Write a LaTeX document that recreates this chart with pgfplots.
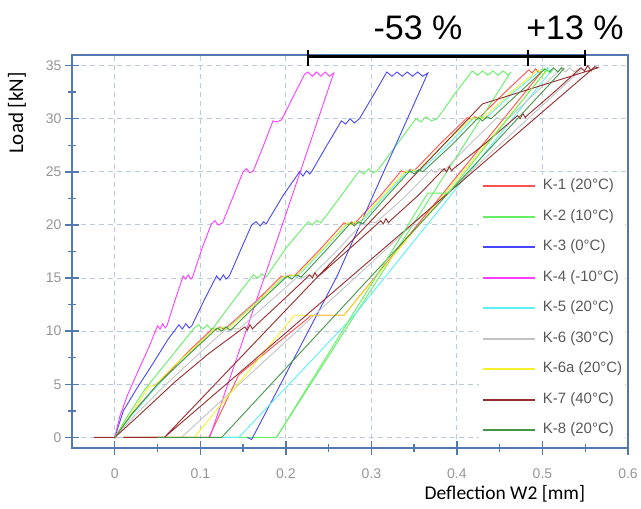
\documentclass[border=0pt]{standalone}
\usepackage{pgfplots}
\pgfplotsset{compat=1.18}
\usepackage{fontspec}
\setmainfont{Liberation Sans}
\newfontfamily\carlito{Carlito}
\definecolor{axblue}{RGB}{84,120,176}
\definecolor{gridc}{RGB}{188,202,224}
\definecolor{tickgray}{RGB}{150,150,150}
\definecolor{legtext}{RGB}{89,89,89}
\definecolor{cK1}{RGB}{255,80,80}
\definecolor{cK2}{RGB}{100,240,100}
\definecolor{cK3}{RGB}{70,70,255}
\definecolor{cK4}{RGB}{255,60,255}
\definecolor{cK5}{RGB}{90,240,245}
\definecolor{cK6}{RGB}{195,195,195}
\definecolor{cK6a}{RGB}{245,240,40}
\definecolor{cK7}{RGB}{150,45,45}
\definecolor{cK8}{RGB}{70,150,70}
\begin{document}
\begin{tikzpicture}
\begin{axis}[
  scale only axis, width=556pt, height=393pt,
  xmin=-0.05, xmax=0.6, ymin=-1, ymax=36,
  axis line style={axblue, line width=1.4pt},
  xtick={0,0.1,0.2,0.3,0.4,0.5,0.6},
  ytick={0,5,10,15,20,25,30,35},
  minor x tick num=1, minor y tick num=1,
  xtick pos=left, ytick pos=left,
  tick align=center,
  major tick length=14pt, minor tick length=8pt,
  tick style={axblue, line width=1.4pt},
  grid=major,
  major grid style={gridc, line width=1pt, dash pattern=on 5pt off 4pt},
  tick label style={font=\fontsize{14}{14}\selectfont, text=tickgray},
  /pgf/number format/assume math mode=true,
  xticklabel style={/pgf/number format/fixed, /pgf/number format/precision=1, yshift=-10pt},
  clip=false,
  every axis plot/.append style={line width=0.9pt},
  legend style={draw=none, fill=white, at={(axis cs:0.4254,24.73)}, anchor=north west,
    inner xsep=3pt, inner ysep=4pt, row sep=16pt, column sep=7pt,
    font=\fontsize{15}{15}\selectfont, text=legtext,
    nodes={inner sep=0pt, text height=11pt, text depth=3.5pt}},
  legend cell align=left,
  legend image code/.code={\draw[#1, line width=2pt] (0pt,0pt) -- (52pt,0pt);},
]
% K-1
\addplot[cK1] coordinates {(0,0)(0.02,2.2)(0.05,5)(0.085,8)(0.115,10.3)(0.119,10.1)(0.123,10.4)(0.127,10.2)(0.13,10.3)(0.165,12.8)(0.195,15.2)(0.2,15.0)(0.205,15.3)(0.21,15.2)(0.24,17.7)(0.268,20.2)(0.273,20.0)(0.277,20.3)(0.28,20.1)(0.31,22.7)(0.335,25.1)(0.34,24.9)(0.345,25.2)(0.35,25.1)(0.38,27.6)(0.412,30.1)(0.417,29.9)(0.421,30.2)(0.425,30.0)(0.455,32.4)(0.484,34.6)(0.488,34.3)(0.492,34.7)(0.496,34.3)(0.5,34.5)(0.268,11.5)(0.23,11.5)(0.145,5.9)(0.11,0)(0.01,0)};
\addlegendentry{K-1 (20°C)}
% K-2
\addplot[cK2] coordinates {(0,0)(0.015,2)(0.035,4.5)(0.065,7.5)(0.093,10.3)(0.098,10.6)(0.103,10.2)(0.108,10.6)(0.112,10.2)(0.115,10.3)(0.14,13)(0.162,15.3)(0.167,15.0)(0.172,15.4)(0.177,15.1)(0.2,17.8)(0.226,20.3)(0.231,20.0)(0.236,20.4)(0.241,20.2)(0.265,22.8)(0.286,25.1)(0.291,24.8)(0.297,25.3)(0.302,24.9)(0.307,25.1)(0.33,27.6)(0.352,30.0)(0.358,29.7)(0.364,30.2)(0.37,29.8)(0.377,30.0)(0.398,32.4)(0.418,34.5)(0.424,34.1)(0.43,34.5)(0.436,34.1)(0.442,34.5)(0.448,34.1)(0.454,34.5)(0.46,34.1)(0.463,34.4)(0.189,0)(0.111,0)};
\addlegendentry{K-2 (10°C)}
% K-3
\addplot[cK3] coordinates {(0,0)(0.01,2.5)(0.025,4.5)(0.045,7)(0.062,9.2)(0.075,10.6)(0.079,10.2)(0.083,10.7)(0.087,10.3)(0.09,10.5)(0.105,13)(0.119,15.2)(0.123,14.8)(0.127,15.3)(0.13,14.9)(0.134,15.2)(0.148,17.8)(0.16,20.0)(0.165,20.3)(0.17,19.9)(0.174,20.3)(0.177,20.1)(0.197,22.8)(0.216,25.0)(0.22,24.6)(0.224,25.1)(0.228,24.8)(0.23,25.0)(0.248,27.5)(0.265,29.8)(0.27,29.5)(0.275,30.0)(0.28,29.6)(0.286,30.0)(0.303,32.3)(0.318,34.4)(0.324,34.0)(0.33,34.4)(0.336,34.0)(0.342,34.4)(0.348,34.0)(0.354,34.4)(0.36,34.0)(0.366,34.3)(0.26,15.2)(0.16,-0.2)(0.155,0)};
\addlegendentry{K-3 (0°C)}
% K-4
\addplot[cK4] coordinates {(0,0)(0.006,2)(0.015,4)(0.027,6.2)(0.04,8.5)(0.05,10.5)(0.053,10.2)(0.056,10.7)(0.059,10.3)(0.061,10.5)(0.07,12.8)(0.08,15.2)(0.083,14.9)(0.086,15.3)(0.089,14.9)(0.091,15.1)(0.102,17.8)(0.113,20.1)(0.117,20.4)(0.121,20.0)(0.126,20.2)(0.138,22.6)(0.15,25.0)(0.154,25.3)(0.158,24.9)(0.162,25.1)(0.174,27.5)(0.185,29.8)(0.19,29.7)(0.195,29.9)(0.21,32.3)(0.222,34.2)(0.226,34.4)(0.231,34.0)(0.236,34.4)(0.241,34.0)(0.246,34.4)(0.251,34.0)(0.256,34.3)(0.2,21)(0.111,0)};
\addlegendentry{K-4 (-10°C)}
% K-5
\addplot[cK5] coordinates {(0,0)(0.02,2.1)(0.05,4.9)(0.087,7.9)(0.117,10.3)(0.121,10.1)(0.125,10.4)(0.129,10.2)(0.132,10.3)(0.167,12.8)(0.2,15.2)(0.204,15.0)(0.208,15.3)(0.213,15.1)(0.244,17.7)(0.273,20.2)(0.277,20.0)(0.281,20.3)(0.286,20.1)(0.315,22.7)(0.343,25.1)(0.347,24.9)(0.351,25.2)(0.356,25.0)(0.39,27.6)(0.42,30.1)(0.424,29.9)(0.428,30.2)(0.433,30.0)(0.465,32.4)(0.5,34.7)(0.503,34.4)(0.506,34.8)(0.509,34.4)(0.512,34.7)(0.28,11.5)(0.145,0)(0.125,0)};
\addlegendentry{K-5 (20°C)}
% K-6
\addplot[cK6] coordinates {(0,0)(0.025,2.2)(0.06,5)(0.1,8)(0.13,10.2)(0.135,10.0)(0.14,10.3)(0.145,10.2)(0.18,12.7)(0.215,15.2)(0.22,15.0)(0.225,15.3)(0.23,15.2)(0.26,17.6)(0.29,20.2)(0.295,20.0)(0.3,20.3)(0.305,20.2)(0.34,22.7)(0.37,25.2)(0.375,24.9)(0.38,25.3)(0.385,25.1)(0.415,27.6)(0.447,30.1)(0.452,29.9)(0.456,30.2)(0.46,30.0)(0.49,32.3)(0.522,34.7)(0.527,34.4)(0.532,34.8)(0.537,34.4)(0.542,34.7)(0.545,34.6)(0.078,0)(0.0,0)};
\addlegendentry{K-6 (30°C)}
% K-6a
\addplot[cK6a] coordinates {(0,0)(0.02,2.3)(0.04,4.8)(0.047,4.9)(0.07,6.8)(0.095,8.6)(0.118,10.3)(0.122,10.1)(0.126,10.4)(0.13,10.2)(0.133,10.3)(0.168,12.8)(0.198,15.2)(0.202,15.0)(0.206,15.3)(0.212,15.2)(0.243,17.7)(0.272,20.2)(0.276,20.0)(0.28,20.3)(0.284,20.1)(0.313,22.7)(0.34,25.1)(0.344,24.9)(0.348,25.2)(0.353,25.0)(0.385,27.6)(0.418,30.1)(0.422,29.9)(0.426,30.2)(0.43,30.0)(0.462,32.4)(0.495,34.6)(0.498,34.3)(0.501,34.7)(0.505,34.5)(0.268,11.5)(0.21,11.5)(0.093,0)(0.03,0)};
\addlegendentry{K-6a (20°C)}
% K-7
\addplot[cK7] coordinates {(-0.024,0)(0,0)(0.03,2.2)(0.07,5.2)(0.11,7.9)(0.152,10.4)(0.155,10.1)(0.158,10.6)(0.161,10.2)(0.163,10.4)(0.195,12.8)(0.228,15.3)(0.231,15.0)(0.234,15.5)(0.237,15.1)(0.24,15.3)(0.275,17.8)(0.311,20.4)(0.314,20.1)(0.317,20.6)(0.32,20.2)(0.322,20.4)(0.355,22.8)(0.385,25.3)(0.388,25.0)(0.391,25.5)(0.394,25.1)(0.396,25.3)(0.435,27.8)(0.471,30.3)(0.474,30.0)(0.477,30.5)(0.48,30.1)(0.482,30.3)(0.515,32.6)(0.545,34.8)(0.549,34.5)(0.553,35.0)(0.557,34.5)(0.561,34.9)(0.565,34.8)(0.43,31.4)(0.058,0)(0.01,0)(0.058,0)(0.56,34.8)};
\addlegendentry{K-7 (40°C)}
% K-8
\addplot[cK8] coordinates {(0,0)(0.02,2.2)(0.05,5)(0.088,7.9)(0.12,10.3)(0.125,10.0)(0.13,10.4)(0.135,10.1)(0.138,10.3)(0.17,12.8)(0.202,15.2)(0.207,14.9)(0.212,15.3)(0.218,15.1)(0.248,17.7)(0.276,20.2)(0.28,19.9)(0.285,20.3)(0.29,20.1)(0.318,22.7)(0.345,25.1)(0.35,24.8)(0.355,25.2)(0.36,25.0)(0.395,27.6)(0.425,30.1)(0.43,29.8)(0.435,30.2)(0.44,30.0)(0.472,32.4)(0.503,34.7)(0.508,34.4)(0.513,34.8)(0.518,34.4)(0.522,34.8)(0.525,34.7)(0.125,0)(0.05,0)};
\addlegendentry{K-8 (20°C)}
% K-2 reload
\addplot[cK2, forget plot] coordinates {(0.189,0)(0.366,23)(0.39,23)(0.505,34.6)(0.509,34.3)(0.512,34.6)};
% annotations
\draw[black, line width=2.2pt] (axis cs:0.226,35.85) -- (axis cs:0.5497,35.85);
\draw[black, line width=2.2pt] (axis cs:0.226,34.95) -- (axis cs:0.226,36.45);
\draw[black, line width=2.2pt] (axis cs:0.483,34.95) -- (axis cs:0.483,36.45);
\draw[black, line width=2.2pt] (axis cs:0.5497,34.95) -- (axis cs:0.5497,36.45);
\node[font=\fontsize{34}{34}\selectfont] at (axis cs:0.3545,38.54) {-53 \%};
\node[font=\fontsize{34}{34}\selectfont] at (axis cs:0.538,38.54) {+13 \%};
\node[font=\carlito\fontsize{19.5}{20}\selectfont, text=black] at (axis cs:0.456,-5.33) {Deflection W2 [mm]};
\node[font=\carlito\fontsize{21}{21}\selectfont, text=black, rotate=90] at (axis cs:-0.1143,30.54) {Load [kN]};
\coordinate (SW) at (rel axis cs:0,0);
\coordinate (NE) at (rel axis cs:1,1);
\end{axis}
\pgfresetboundingbox
\path ([shift={(-72pt,-60pt)}]SW) rectangle ([shift={(13pt,55pt)}]NE);
\end{tikzpicture}
\end{document}
